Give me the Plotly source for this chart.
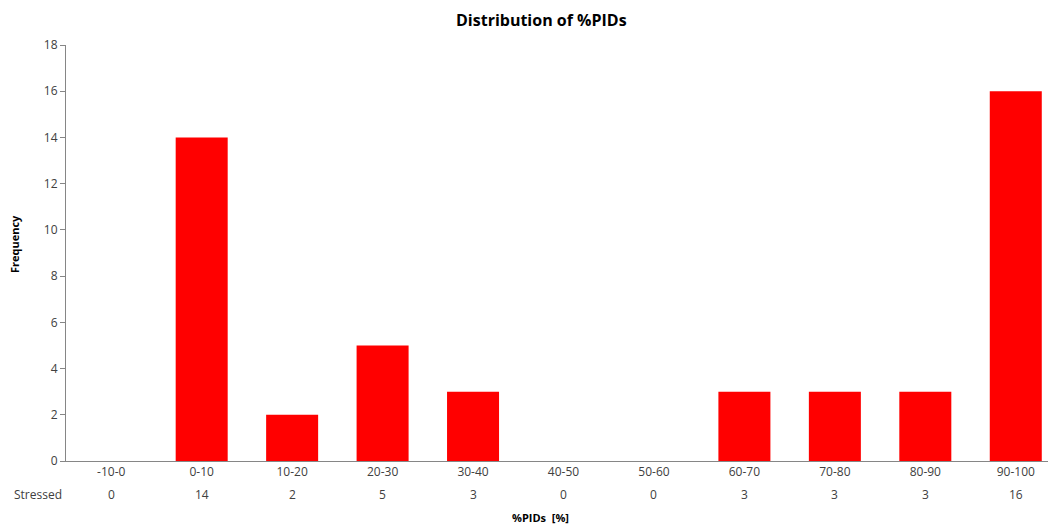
import plotly.graph_objects as go

categories = ["-10-0", "0-10", "10-20", "20-30", "30-40", "40-50", "50-60", "60-70", "70-80", "80-90", "90-100"]
stressed = [0, 14, 2, 5, 3, 0, 0, 3, 3, 3, 16]
y_ticks = [0, 2, 4, 6, 8, 10, 12, 14, 16, 18]

FONT = "Open Sans"
TXT = "#404040"

# the page body has an 8px margin, so the figure sits at (8, 8) in the window
OFF = 8
W, H = 1056, 519
# desired plot area in window pixels: x 66..1061 (runs past the window edge), y 45..461
PX0, PX1, PY0, PY1 = 66, 1061, 45, 461
ML, MT = PX0 - OFF, PY0 - OFF
MR = W - (PX1 - OFF)
MB = H - (PY1 - OFF)
PW, PH = W - ML - MR, H - MT - MB

def px_x(x):
    return (x - OFF - ML) / PW

def px_y(y):
    return (H - MB - (y - OFF)) / PH

fig = go.Figure()
fig.add_trace(go.Bar(
    x=categories, y=stressed, name="Stressed",
    marker=dict(color="#FF0000", line=dict(width=0)),
    width=0.575,
))

annotations = []
for c, v in zip(categories, stressed):
    annotations.append(dict(x=c, xref="x", y=px_y(494), yref="paper", yanchor="middle", text=str(v),
                            showarrow=False, font=dict(family=FONT, size=12, color=TXT)))
annotations.append(dict(x=px_x(12), xref="paper", y=px_y(494), yref="paper", yanchor="middle",
                        text="Stressed", showarrow=False, xanchor="left",
                        font=dict(family=FONT, size=12, color=TXT)))
annotations.append(dict(x=px_x(540), xref="paper", y=px_y(517), yref="paper", yanchor="middle",
                        text="<b>%PIDs  [%]</b>", showarrow=False,
                        font=dict(family=FONT, size=11, color="#000000")))
annotations.append(dict(x=px_x(14), xref="paper", y=px_y(244), yref="paper", xanchor="center",
                        yanchor="middle", textangle=-90,
                        text="<b>Frequency</b>", showarrow=False,
                        font=dict(family=FONT, size=11, color="#000000")))
annotations.append(dict(x=px_x(541), xref="paper", y=px_y(20), yref="paper", xanchor="center",
                        yanchor="middle", text="<b>Distribution of %PIDs</b>", showarrow=False,
                        font=dict(family=FONT, size=16, color="#000000")))

fig.update_layout(
    width=W, height=H,
    margin=dict(l=ML, r=MR, t=MT, b=MB),
    paper_bgcolor="white", plot_bgcolor="white",
    showlegend=False,
    annotations=annotations,
    xaxis=dict(
        type="category", showgrid=False, showline=True, linecolor="#868686", linewidth=1,
        ticks="", tickfont=dict(family=FONT, size=12, color=TXT), automargin=False,
        range=[-0.5, 10.5],
    ),
    yaxis=dict(
        range=[0, 18], tickvals=y_ticks, showgrid=False, zeroline=False,
        showline=True, linecolor="#868686", linewidth=1, automargin=False,
        ticks="outside", ticklen=5, tickcolor="#868686",
        tickfont=dict(family=FONT, size=12, color=TXT),
    ),
)

fig.write_html(
    "out.html",
    post_script="document.documentElement.style.overflow='hidden';document.body.style.overflow='hidden';",
)
